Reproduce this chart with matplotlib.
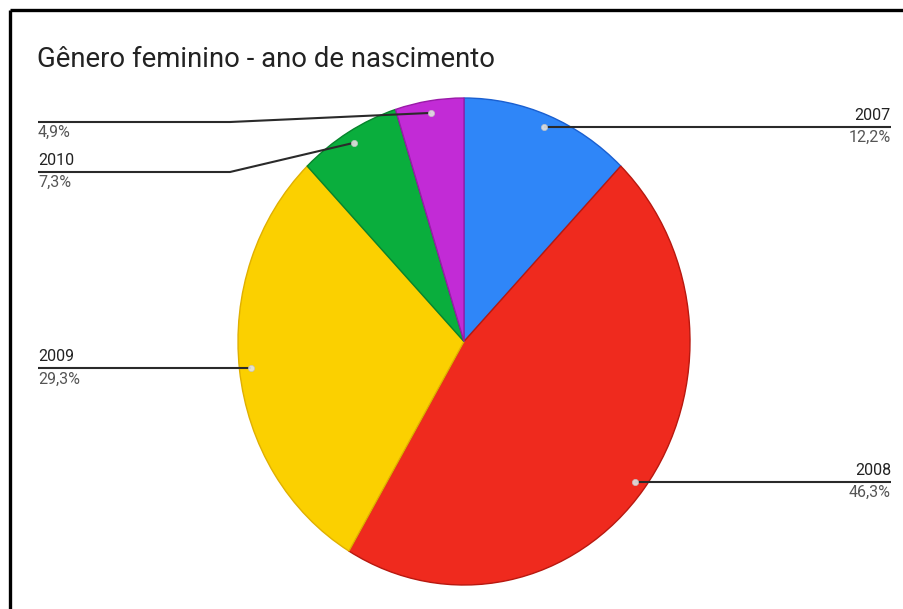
import matplotlib.pyplot as plt
import numpy as np

plt.rcParams['font.family'] = ['Roboto', 'DejaVu Sans']

# dados: ano de nascimento (gênero feminino)
anos = ['2007', '2008', '2009', '2010', '']
percentuais = [12.2, 46.3, 29.3, 7.3, 4.9]
cores = ['#2f86f8', '#ef2a1e', '#fbd000', '#0aae3d', '#c22bd6']
bordas = ['#1a5fd0', '#b8180f', '#e0b000', '#07842c', '#9a1aa8']

W, H = 904, 609
fig = plt.figure(figsize=(W / 100, H / 100), dpi=100)

# eixo de sobreposição em pixels (origem no canto superior esquerdo)
over = fig.add_axes([0, 0, 1, 1], zorder=2)
over.set_xlim(0, W)
over.set_ylim(H, 0)
over.axis('off')
over.patch.set_alpha(0)

# eixo da pizza (levemente esticado na vertical)
cx, cy, rx, ry = 464, 341.5, 226, 243.5
pie_ax = fig.add_axes([(cx - rx) / W, 1 - (cy + ry) / H, 2 * rx / W, 2 * ry / H], zorder=1)
wedges, _ = pie_ax.pie(percentuais, colors=cores, startangle=90, counterclock=False,
                       wedgeprops=dict(linewidth=1.0))
for w, b in zip(wedges, bordas):
    w.set_edgecolor(b)
pie_ax.set_aspect('auto')
pie_ax.set_xlim(-1, 1)
pie_ax.set_ylim(-1, 1)
pie_ax.axis('off')


def to_px(x, y):
    disp = pie_ax.transData.transform((x, y))
    return over.transData.inverted().transform(disp)


# posição dos rótulos: lado e altura da linha (None = altura do ponto)
lados = ['r', 'r', 'l', 'l', 'l']
alturas = [None, None, None, 172, 122]
x_esq, x_dir, x_cotovelo = 38, 891, 230

for w, ano, p, lado, yl in zip(wedges, anos, percentuais, lados, alturas):
    ang = np.deg2rad((w.theta1 + w.theta2) / 2)
    px, py = to_px(0.95 * np.cos(ang), 0.95 * np.sin(ang))
    y = py if yl is None else yl
    if lado == 'r':
        xs, ys = [px, x_dir], [py, y]
        xt, ha = x_dir, 'right'
    else:
        if yl is None:
            xs, ys = [px, x_esq], [py, y]
        else:
            xs, ys = [px, x_cotovelo, x_esq], [py, y, y]
        xt, ha = x_esq, 'left'
    over.plot(xs, ys, color='#2a2a2a', lw=1.5, solid_capstyle='butt')
    over.plot(px, py, 'o', ms=4.5, color='#e2e2e2', mec='#c0c0c0', mew=0.5, alpha=0.9)
    if ano:
        over.text(xt, y - 4, ano, ha=ha, va='bottom', fontsize=11.5, color='#222222')
    over.text(xt, y + 3, f'{p:.1f}'.replace('.', ',') + '%', ha=ha, va='top',
              fontsize=11.5, color='#555555')

over.text(37, 67, 'Gênero feminino - ano de nascimento', ha='left', va='baseline',
          fontsize=19.8, color='#222222')

# moldura (apenas topo e esquerda)
over.plot([10, W], [10, 10], color='black', lw=2.4, solid_capstyle='butt')
over.plot([10, 10], [10, H], color='black', lw=2.4, solid_capstyle='butt')

fig.savefig('out.png', dpi=100, facecolor='white')
